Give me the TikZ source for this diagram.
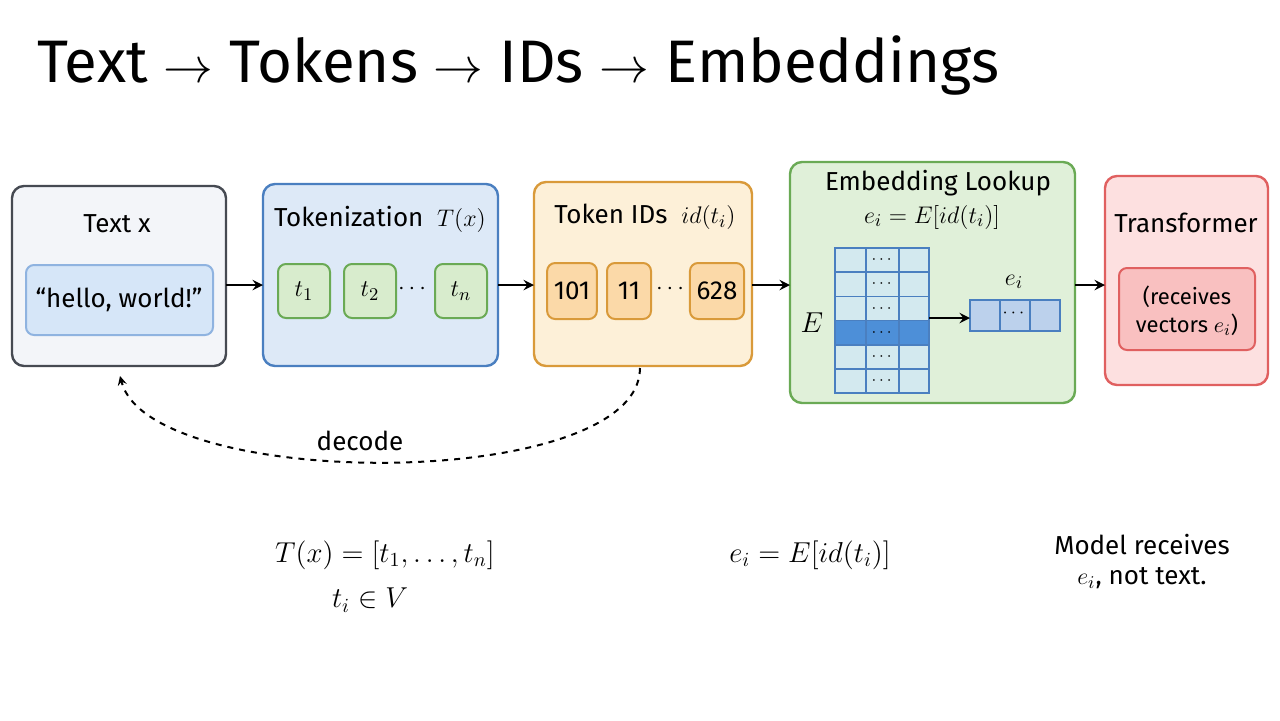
\documentclass[tikz,border=0pt]{standalone}
\usepackage{fontspec}
\setmainfont{Fira Sans}
\usepackage{amsmath}
\usetikzlibrary{positioning}
\definecolor{grey-fill}{RGB}{243,245,249}
\definecolor{grey-draw}{RGB}{70,74,82}
\definecolor{blue-fill}{RGB}{221,233,247}
\definecolor{blue-draw}{RGB}{74,127,192}
\definecolor{blue-light}{RGB}{214,230,248}
\definecolor{blue-mid}{RGB}{143,179,224}
\definecolor{blue-dark}{RGB}{77,143,216}
\definecolor{green-fill}{RGB}{224,240,217}
\definecolor{green-tok}{RGB}{216,236,205}
\definecolor{green-draw}{RGB}{106,170,85}
\definecolor{orange-fill}{RGB}{253,240,216}
\definecolor{orange-tok}{RGB}{251,217,168}
\definecolor{orange-draw}{RGB}{217,154,58}
\definecolor{teal-fill}{RGB}{211,233,239}
\definecolor{red-fill}{RGB}{253,224,224}
\definecolor{red-tok}{RGB}{249,192,192}
\definecolor{red-draw}{RGB}{224,96,96}
\tikzset{
  stage/.style={draw, line width=1.2pt, rounded corners=6pt},
  chip/.style={draw, line width=1pt, rounded corners=4pt, font=\fontsize{13}{13}\selectfont},
  lbl/.style={font=\fontsize{13}{15}\selectfont},
  flow/.style={-stealth, line width=1.3pt},
  cell/.style={draw=blue-draw, line width=0.8pt, fill=teal-fill}
}
\begin{document}
\begin{tikzpicture}[x=0.5pt, y=-0.5pt]
\useasboundingbox (0,0) rectangle (1280,720);
\node[anchor=west, font=\fontsize{30}{30}\selectfont] (title) at (30,65) {Text $\rightarrow$ Tokens $\rightarrow$ IDs $\rightarrow$ Embeddings};

% text
\filldraw[stage, fill=grey-fill, draw=grey-draw] (12,186) rectangle (226,366);
\node[lbl] (textlbl) at (117,224) {Text x};
\filldraw[chip, fill=blue-light, draw=blue-mid] (26,265) rectangle (213,335);
\node[lbl] (hello) at (119,300) {“hello, world!”};
\coordinate (textE) at (226,285);
\coordinate (textS) at (120,376);

% tokenization
\filldraw[stage, fill=blue-fill, draw=blue-draw] (263,184) rectangle (498,366);
\node[lbl] (toklbl) at (380,219) {Tokenization \ $T(x)$};
\foreach \x/\t in {304/t_1, 370/t_2, 461/t_n}
  \node[chip, fill=green-tok, draw=green-draw, minimum width=26pt, minimum height=27pt] at (\x,291) {$\t$};
\node[lbl] at (414,289) {$\cdots$};
\coordinate (tokW) at (263,285);
\coordinate (tokE) at (498,285);

% ids
\filldraw[stage, fill=orange-fill, draw=orange-draw] (534,182) rectangle (752,366);
\node[lbl] (idlbl) at (645,217) {Token IDs \ $id(t_i)$};
\node[chip, fill=orange-tok, draw=orange-draw, minimum width=24pt, minimum height=28pt] (id1) at (572,291) {101};
\node[chip, fill=orange-tok, draw=orange-draw, minimum width=22pt, minimum height=28pt] (id2) at (629,291) {11};
\node[lbl] (iddots) at (672,289) {$\cdots$};
\node[chip, fill=orange-tok, draw=orange-draw, minimum width=22pt, minimum height=28pt] (id3) at (717,291) {628};
\coordinate (idW) at (534,285);
\coordinate (idE) at (752,285);
\coordinate (idS) at (640,368);

% embedding
\filldraw[stage, fill=green-fill, draw=green-draw] (790,162) rectangle (1075,403);
\node[lbl] (emblbl) at (938,183) {Embedding Lookup};
\node[lbl] (embeq) at (932,217) {$e_i = E[id(t_i)]$};
\node[lbl, font=\fontsize{15}{15}\selectfont] (E) at (812,323) {$E$};
\foreach \i in {0,...,5} {
  \pgfmathsetmacro{\ya}{248+24.2*\i}
  \pgfmathsetmacro{\yb}{272.2+24.2*\i}
  \ifnum\i=3
    \filldraw[cell, fill=blue-dark] (835,\ya) rectangle (929,\yb);
  \else
    \filldraw[cell] (835,\ya) rectangle (929,\yb);
  \fi
  \draw[blue-draw, line width=0.6pt] (866,\ya) -- (866,\yb) (899,\ya) -- (899,\yb);
  \node[font=\fontsize{8}{8}\selectfont, inner sep=0pt] at (883,\ya+12) {$\cdots$};
}
\coordinate (rowE) at (929,318);
\filldraw[draw=blue-draw, fill=blue-mid!60, line width=0.8pt] (970,300) rectangle (1060,331);
\draw[blue-draw, line width=0.8pt] (1000,300) -- (1000,331) (1030,300) -- (1030,331);
\node[font=\fontsize{9}{9}\selectfont] (vecdots) at (1015,313) {$\cdots$};
\coordinate (vecW) at (970,318);
\node[lbl] (ei) at (1014,282) {$e_i$};
\draw[flow] (rowE) -- (vecW);
\coordinate (embW) at (790,285);
\coordinate (embE) at (1075,285);

% transformer
\filldraw[stage, fill=red-fill, draw=red-draw] (1105,176) rectangle (1268,385);
\node[lbl] (trlbl) at (1186,223) {Transformer};
\filldraw[chip, fill=red-tok, draw=red-draw] (1119,268) rectangle (1255,350);
\node[lbl, align=center, font=\fontsize{11}{14}\selectfont] (recv) at (1187,311) {(receives\\vectors $e_i$)};
\coordinate (trW) at (1105,285);

\draw[flow] (textE) -- (tokW);
\draw[flow] (tokE) -- (idW);
\draw[flow] (idE) -- (embW);
\draw[flow] (embE) -- (trW);
\draw[flow, dashed, line width=1pt] (idS) .. controls (640,492) and (150,492) .. (textS);
\node[lbl] (decode) at (360,441) {decode};

% formulas
\node[font=\fontsize{14}{14}\selectfont] (f1) at (385,555) {$T(x) = [t_1, \ldots, t_n]$};
\node[font=\fontsize{14}{14}\selectfont] (f2) at (370,600) {$t_i \in V$};
\node[font=\fontsize{14}{14}\selectfont] (f3) at (810,555) {$e_i = E[id(t_i)]$};
\node[lbl, align=center] (model) at (1142,562) {Model receives\\$e_i$, not text.};
\end{tikzpicture}
\end{document}
